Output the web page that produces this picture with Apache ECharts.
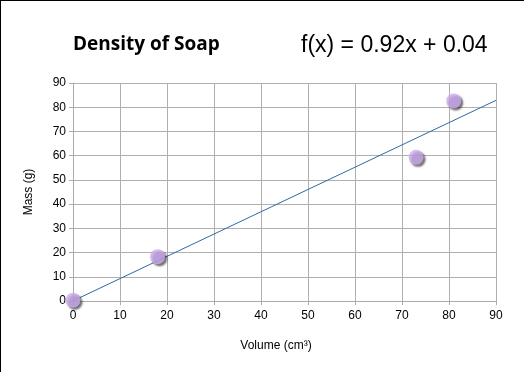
<!DOCTYPE html>
<html>
<head>
<meta charset="utf-8">
<script src="https://cdn.jsdelivr.net/npm/echarts@6/dist/echarts.min.js"></script>
<style>
html,body{margin:0;padding:0;background:#fff;}
#chart{width:524px;height:372px;}
</style>
</head>
<body>
<div id="chart"></div>
<script>
var volume = [0, 18, 73, 81];
var mass = [0.3, 18.3, 59.3, 82.6];
var trendX = [0, 90];
var trendY = [0.04, 82.84];
var xTicks = [0, 10, 20, 30, 40, 50, 60, 70, 80, 90];
var yTicks = [0, 10, 20, 30, 40, 50, 60, 70, 80, 90];
var titleText = 'Density of Soap';
var equationText = 'f(x) = 0.92x + 0.04';

var chart = echarts.init(document.getElementById('chart'), null, {renderer: 'canvas'});
var pts = volume.map(function (v, i) { return [v, mass[i]]; });
var trend = trendX.map(function (v, i) { return [v, trendY[i]]; });
var labelFont = {color: '#000', fontFamily: 'Liberation Sans', fontSize: 12};
chart.setOption({
  animation: false,
  backgroundColor: '#fff',
  title: [
    {text: titleText, left: 68, top: 30, textStyle: {fontFamily: 'Open Sans', fontWeight: 'bold', fontSize: 19, color: '#000'}},
    {text: equationText, left: 296, top: 29, textStyle: {fontFamily: 'Liberation Sans', fontWeight: 'normal', fontSize: 23, color: '#000'}}
  ],
  grid: {left: 73, right: 28, top: 83, bottom: 71},
  xAxis: {
    type: 'value', min: xTicks[0], max: xTicks[xTicks.length - 1], interval: 10,
    name: 'Volume (cm³)', nameLocation: 'middle', nameGap: 39,
    nameTextStyle: {fontFamily: 'Liberation Sans', fontSize: 12, color: '#000', padding: [0, 17, 0, 0]},
    axisLine: {show: true, lineStyle: {color: '#aaa', width: 1}},
    axisTick: {show: true, length: 4, lineStyle: {color: '#aaa'}},
    axisLabel: Object.assign({margin: 9}, labelFont),
    splitLine: {show: true, lineStyle: {color: '#b0b0b0', width: 1}}
  },
  yAxis: {
    type: 'value', min: yTicks[0], max: yTicks[yTicks.length - 1], interval: 10,
    name: 'Mass (g)', nameLocation: 'middle', nameGap: 38, nameRotate: 90,
    nameTextStyle: {fontFamily: 'Liberation Sans', fontSize: 12, color: '#000'},
    axisLine: {show: true, lineStyle: {color: '#aaa', width: 1}},
    axisTick: {show: true, length: 4, lineStyle: {color: '#aaa'}},
    axisLabel: Object.assign({margin: 7}, labelFont),
    splitLine: {show: true, lineStyle: {color: '#b0b0b0', width: 1}}
  },
  graphic: [
    {type: 'line', shape: {x1: 0, y1: 0.5, x2: 524, y2: 0.5}, style: {stroke: '#000', lineWidth: 1}},
    {type: 'line', shape: {x1: 0.5, y1: 0, x2: 0.5, y2: 372}, style: {stroke: '#000', lineWidth: 1}}
  ],
  series: [
    {
      type: 'line', data: trend, symbol: 'none', z: 3,
      lineStyle: {color: '#2f68a3', width: 1}
    },
    {
      type: 'scatter', data: pts, symbol: 'circle', symbolSize: 15, z: 4,
      itemStyle: {color: '#cdaaf0', shadowColor: 'rgba(0,0,0,0.7)', shadowBlur: 2, shadowOffsetX: 2, shadowOffsetY: 2}
    }
  ]
});
</script>
</body>
</html>
